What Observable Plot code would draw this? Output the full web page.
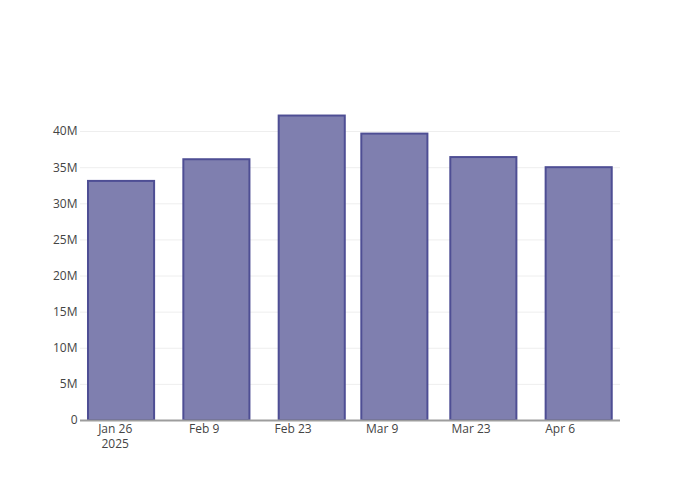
<!DOCTYPE html>
<html>
<head>
<meta charset="utf-8">
<script src="https://cdn.jsdelivr.net/npm/d3@7"></script>
<script src="https://cdn.jsdelivr.net/npm/@observablehq/plot@0.6"></script>
<style>
  html, body { margin: 0; padding: 0; background: #fff; }
  #chart { width: 700px; height: 500px; }
</style>
</head>
<body>
<div id="chart"></div>
<script>
// Data
const dates = ["2025-01-27", "2025-02-11", "2025-02-26", "2025-03-11", "2025-03-25", "2025-04-09"];
const values = [33.1e6, 36.1e6, 42.15e6, 39.65e6, 36.4e6, 35.0e6];
const xTickDates = ["2025-01-26", "2025-02-09", "2025-02-23", "2025-03-09", "2025-03-23", "2025-04-06"];
const yTickValues = [0, 5e6, 10e6, 15e6, 20e6, 25e6, 30e6, 35e6, 40e6];
const xDomain = ["2025-01-20T13:00", "2025-04-15T12:00"];
const yMax = 44.3e6;

const DAY = 864e5;
const parsed = dates.map(d => new Date(d + "T00:00Z"));
let minGap = Infinity;
for (let i = 1; i < parsed.length; i++) minGap = Math.min(minGap, parsed[i] - parsed[i - 1]);
const halfWidth = minGap * 0.8 / 2;

const rows = parsed.map((d, i) => ({
  date: d,
  x1: new Date(+d - halfWidth),
  x2: new Date(+d + halfWidth),
  value: values[i]
}));

const xTicks = xTickDates.map(d => new Date(d + "T00:00Z"));
const fmtDay = d3.utcFormat("%b %-d");
const fmtY = v => v === 0 ? "0" : (v / 1e6) + "M";

const chart = Plot.plot({
  width: 700,
  height: 500,
  marginLeft: 80,
  marginRight: 80,
  marginTop: 100,
  marginBottom: 80,
  style: { fontFamily: "'Open Sans', sans-serif", fontSize: "12px", color: "#444", background: "#fff" },
  x: {
    type: "utc",
    domain: xDomain.map(s => new Date(s + "Z")),
    ticks: xTicks,
    label: null
  },
  y: {
    domain: [0, yMax],
    ticks: yTickValues,
    label: null
  },
  marks: [
    Plot.gridY(yTickValues.filter(v => v > 0), { stroke: "#eeeeee", strokeOpacity: 1, strokeWidth: 1 }),
    Plot.rectY(rows, {
      x1: "x1", x2: "x2", y1: 0, y2: "value",
      fill: "rgb(127,127,175)",
      stroke: "rgb(78,78,148)",
      strokeWidth: 2
    }),
    Plot.ruleY([0], { stroke: "#9d9d9d", strokeWidth: 2 }),
    Plot.axisY({ ticks: yTickValues, tickSize: 0, tickPadding: 3, tickFormat: fmtY, fill: "#444", label: null }),
    Plot.axisX({
      ticks: xTicks, tickSize: 0, tickPadding: 1, lineHeight: 1.3,
      tickFormat: (d, i) => i === 0 ? fmtDay(d) + "\n" + d.getUTCFullYear() : fmtDay(d),
      fill: "#444", label: null
    })
  ]
});

document.getElementById("chart").appendChild(chart);
</script>
</body>
</html>
